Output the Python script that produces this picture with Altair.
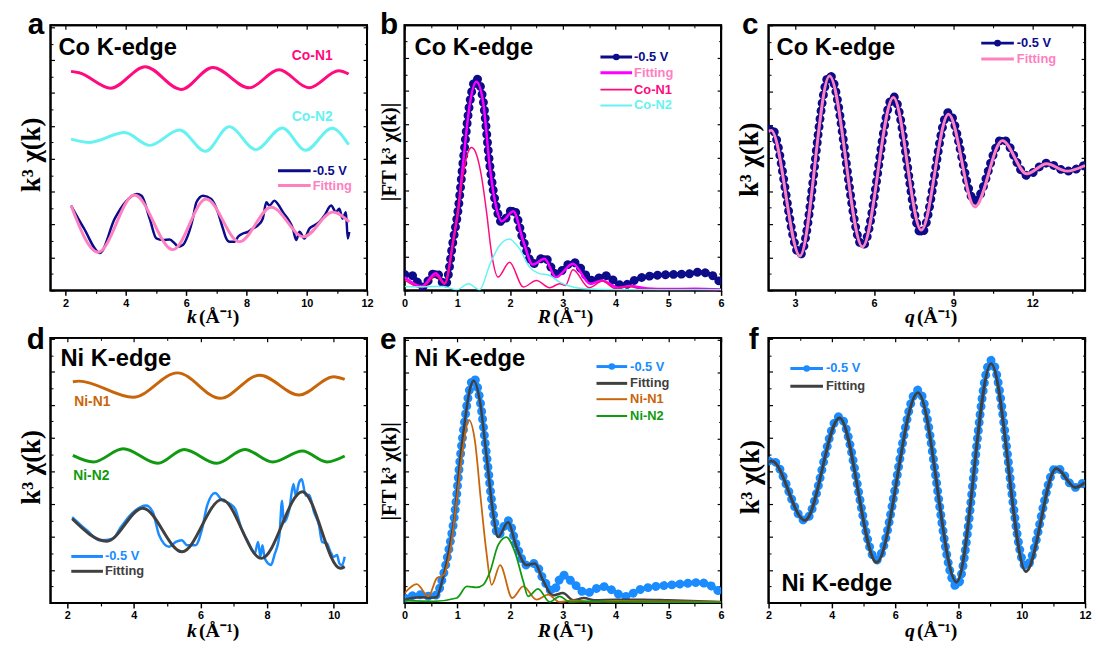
import altair as alt
import pandas as pd

# ---------------- data (arbitrary units) ----------------
# Panel a : Co K-edge, k-space
A_K_N1 = [2.18, 2.45, 3.50, 4.64, 5.83, 6.88, 8.09, 9.08, 10.07, 11.06, 11.39]
A_N1 = [66.6, 66.2, 61.5, 68.0, 61.1, 67.8, 61.6, 67.1, 61.6, 66.8, 65.8]
A_K_N2 = [2.18, 2.80, 3.96, 4.79, 5.78, 6.64, 7.43, 8.31, 9.19, 9.96, 10.84, 11.39]
A_N2 = [46.0, 45.0, 48.0, 44.1, 48.8, 42.3, 49.8, 42.8, 49.4, 42.6, 49.3, 44.3]
A_K_FIT = [2.18, 3.08, 4.28, 5.56, 6.66, 7.77, 8.82, 9.90, 10.86, 11.41]
A_FIT = [25.8, 11.6, 29.0, 12.4, 27.8, 14.8, 25.3, 16.3, 23.8, 20.8]
A_K_EXP = [2.18, 2.60, 3.14, 3.63, 4.00, 4.37, 4.52, 4.79, 5.01, 5.23,
           5.45, 5.62, 5.73, 5.89, 6.06, 6.22, 6.34, 6.56, 6.83, 7.05,
           7.22, 7.33, 7.44, 7.61, 7.72, 7.88, 8.05, 8.21, 8.38, 8.54,
           8.66, 8.76, 8.93, 9.04, 9.21, 9.37, 9.54, 9.65, 9.76, 9.92,
           10.09, 10.26, 10.42, 10.59, 10.81, 10.97, 11.08, 11.19, 11.30, 11.36,
           11.41]
A_EXP = [25.8, 19.0, 11.4, 21.8, 27.0, 29.3, 28.8, 21.8, 15.8, 15.3,
         15.5, 14.3, 13.3, 13.8, 16.8, 21.8, 26.8, 28.8, 27.8, 23.8,
         18.8, 15.8, 14.8, 14.8, 16.3, 17.3, 17.8, 18.8, 19.8, 21.8,
         26.8, 25.8, 27.3, 26.3, 23.8, 21.8, 18.8, 15.3, 17.8, 15.8,
         18.8, 19.8, 20.8, 22.8, 25.8, 23.8, 24.8, 21.8, 23.8, 15.8,
         17.8]

# Panel b : Co K-edge, R-space
B_R_EXP = [0.00, 0.14, 0.33, 0.59, 0.77, 0.92, 1.02, 1.11, 1.24, 1.36,
           1.49, 1.62, 1.74, 1.84, 2.06, 2.25, 2.43, 2.65, 2.87, 3.19,
           3.57, 3.79, 4.13, 4.45, 4.76, 5.08, 5.39, 5.58, 5.77, 6.00]
B_EXP = [4.8, 4.5, 1.0, 5.5, 1.5, 15.0, 25.0, 39.0, 57.0, 63.8,
         57.0, 37.0, 25.0, 20.5, 24.5, 15.0, 8.0, 10.0, 5.0, 8.5,
         3.0, 4.5, 1.5, 3.7, 4.5, 4.8, 5.0, 5.5, 5.0, 2.2]
B_R_FIT = [0.00, 0.33, 0.59, 0.76, 0.92, 1.02, 1.11, 1.24, 1.36, 1.49,
           1.62, 1.74, 1.84, 2.06, 2.25, 2.43, 2.65, 2.87, 3.19, 3.52,
           3.74, 4.05, 4.27, 4.60, 5.00, 5.50, 6.00]
B_FIT = [4.0, 1.2, 5.2, 2.0, 14.8, 24.8, 38.5, 56.5, 62.8, 56.5,
         36.5, 24.8, 20.8, 23.8, 14.8, 7.8, 9.5, 4.0, 8.0, 2.0,
         3.0, 0.8, 1.3, 0.6, 0.4, 0.5, 0.3]
B_R_N1 = [0.00, 0.33, 0.59, 0.76, 0.92, 1.02, 1.11, 1.20, 1.27, 1.36,
          1.45, 1.55, 1.65, 1.77, 1.99, 2.25, 2.50, 2.75, 2.94, 3.05,
          3.19, 3.50, 3.75, 4.00, 4.26, 4.50, 6.00]
B_N1 = [3.2, 0.8, 4.5, 2.0, 14.5, 25.0, 35.0, 41.5, 43.0, 41.0,
        35.0, 24.0, 11.0, 4.0, 8.5, 1.0, 3.0, 0.8, 2.0, 1.5,
        6.2, 0.8, 2.8, 0.5, 1.2, 0.4, 0.3]
B_R_N2 = [0.00, 0.40, 0.74, 0.99, 1.21, 1.42, 1.62, 1.80, 1.98, 2.18,
          2.37, 2.53, 2.75, 2.94, 3.19, 3.50, 4.00, 6.00]
B_N2 = [1.2, 1.1, 1.2, 0.2, 2.0, 0.2, 8.0, 13.5, 15.5, 12.5,
        7.0, 5.2, 4.5, 2.5, 1.0, 0.4, 0.2, 0.2]

# Panel c : Co K-edge, q-space
C_Q = [2.00, 2.10, 3.19, 4.31, 5.56, 6.73, 7.79, 8.82, 9.82, 10.86, 11.79, 12.54, 13.31, 14.00]
C_EXP = [48.7, 49.0, 10.7, 65.0, 13.4, 58.5, 17.2, 53.7, 27.0, 45.7, 34.7, 38.4, 36.0, 37.9]
C_FIT = [48.0, 48.3, 10.4, 64.7, 13.2, 58.2, 18.2, 53.2, 25.2, 45.2, 35.2, 38.2, 36.0, 37.7]

# Panel d : Ni K-edge, k-space
D_K_N1 = [2.17, 2.35, 3.98, 5.31, 6.59, 7.78, 8.96, 10.00, 10.33]
D_N1 = [67.0, 67.2, 62.3, 69.7, 62.0, 69.0, 63.0, 68.5, 67.7]
D_K_N2 = [2.17, 2.79, 3.68, 4.72, 5.51, 6.49, 7.33, 8.17, 9.06, 9.80, 10.33]
D_N2 = [44.7, 42.7, 46.7, 42.3, 46.5, 42.3, 46.5, 42.7, 46.0, 42.7, 44.5]
D_K_FIT = [2.15, 3.19, 4.27, 5.45, 6.64, 7.83, 9.06, 10.20, 10.33]
D_FIT = [25.5, 18.7, 28.7, 15.5, 31.3, 13.5, 33.7, 10.5, 11.0]
D_K_EXP = [2.15, 2.59, 2.99, 3.38, 3.58, 3.93, 4.37, 4.57, 4.76, 5.06,
           5.26, 5.44, 5.60, 5.85, 6.05, 6.20, 6.44, 6.64, 6.89, 7.04,
           7.23, 7.43, 7.63, 7.73, 7.80, 7.86, 7.93, 8.12, 8.22, 8.37,
           8.45, 8.50, 8.67, 8.79, 8.86, 8.96, 9.04, 9.16, 9.26, 9.41,
           9.56, 9.65, 9.80, 9.90, 10.00, 10.10, 10.17, 10.25, 10.33]
D_EXP = [26.0, 22.0, 19.0, 19.5, 22.5, 27.0, 29.5, 27.5, 20.5, 17.0,
         18.5, 19.0, 17.5, 17.5, 22.5, 29.5, 33.3, 31.2, 30.0, 28.5,
         22.5, 18.5, 15.0, 18.5, 14.0, 17.5, 13.5, 11.5, 14.5, 20.5,
         31.0, 24.5, 28.5, 36.0, 32.5, 36.5, 37.5, 32.5, 32.8, 27.5,
         23.5, 18.5, 18.0, 15.5, 14.0, 14.5, 12.0, 11.4, 14.0]

# Panel e : Ni K-edge, R-space
E_R_EXP = [0.00, 0.30, 0.48, 0.61, 0.70, 0.83, 0.96, 1.05, 1.14, 1.24,
           1.31, 1.43, 1.55, 1.68, 1.77, 1.96, 2.12, 2.31, 2.47, 2.62,
           2.81, 3.00, 3.20, 3.44, 3.75, 4.19, 4.45, 4.76, 5.08, 5.39,
           5.58, 5.77, 6.00]
E_EXP = [1.5, 2.5, 2.0, 2.5, 6.5, 15.5, 28.5, 43.5, 55.5, 65.5,
         68.3, 61.5, 45.5, 27.5, 20.5, 25.0, 17.5, 11.5, 12.0, 7.5,
         3.5, 8.5, 6.0, 3.0, 5.0, 2.0, 4.0, 5.0, 5.5, 6.0,
         6.2, 5.5, 3.0]
E_R_FIT = [0.00, 0.30, 0.50, 0.61, 0.70, 0.83, 0.96, 1.05, 1.14, 1.24,
           1.31, 1.43, 1.55, 1.68, 1.77, 1.96, 2.12, 2.31, 2.47, 2.62,
           2.81, 3.00, 3.20, 3.40, 3.60, 4.00, 4.50, 5.00, 6.00]
E_FIT = [1.0, 1.7, 1.6, 1.8, 6.0, 15.0, 28.0, 43.0, 55.0, 65.0,
         67.5, 61.0, 45.0, 27.0, 20.0, 24.5, 17.0, 11.5, 12.0, 7.0,
         2.3, 3.0, 0.8, 1.5, 0.8, 1.0, 1.0, 0.8, 0.3]
E_R_N1 = [0.00, 0.23, 0.45, 0.61, 0.74, 0.86, 0.99, 1.11, 1.22, 1.33,
          1.45, 1.55, 1.65, 1.81, 2.04, 2.25, 2.50, 2.72, 2.94, 3.20,
          3.50, 4.00, 5.00, 6.00]
E_N1 = [3.0, 5.7, 2.0, 7.5, 8.5, 15.5, 31.5, 47.5, 55.5, 49.5,
        30.5, 15.5, 5.5, 11.5, 1.5, 5.0, 1.0, 2.5, 0.3, 0.8,
        0.4, 0.6, 0.5, 0.3]
E_R_N2 = [0.00, 0.55, 0.99, 1.18, 1.36, 1.49, 1.62, 1.77, 1.93, 2.09,
          2.25, 2.34, 2.53, 2.75, 2.94, 3.13, 3.50, 4.00, 6.00]
E_N2 = [0.7, 0.5, 1.5, 5.0, 4.7, 5.5, 9.5, 17.5, 20.0, 15.5,
        6.5, 2.0, 4.3, 0.3, 2.0, 0.3, 0.5, 0.3, 0.2]

# Panel f : Ni K-edge, q-space
F_Q = [2.00, 2.10, 3.15, 4.24, 5.41, 6.72, 7.94, 9.03, 10.13, 11.09, 11.69, 12.00]
F_EXP = [43.0, 43.3, 25.0, 56.5, 13.0, 64.5, 5.0, 73.5, 11.0, 41.0, 35.0, 37.0]
F_FIT = [42.7, 43.0, 25.0, 56.0, 12.3, 63.7, 6.3, 72.5, 9.5, 40.7, 35.0, 36.5]

# tick labels
TICKS_K = [2, 4, 6, 8, 10, 12]
TICKS_R = [0, 1, 2, 3, 4, 5, 6]
TICKS_QC = [3, 6, 9, 12]
TICKS_KD = [2, 4, 6, 8, 10]
TICKS_QF = [2, 4, 6, 8, 10, 12]

# ---------------- style ----------------
W, H = 320, 268
SANS = "Liberation Sans"
SERIF = "Liberation Serif"
NAVY = "#0c0c8a"
PINK = "#ff80c0"
DEEPPINK = "#ff0a7f"
CYAN = "#66f2f2"
MAGENTA = "#ff00ff"
BLUE = "#1a8cff"
GRAY = "#404040"
BROWN = "#c8650a"
GREEN = "#109a10"

ONE = pd.DataFrame({"a": [0]})


def sc(dom):
    return alt.Scale(domain=dom, nice=False, zero=False)


def series(xs, ys, xdom, ydom, color, width, dotted=False):
    assert len(xs) == len(ys)
    df = pd.DataFrame({"x": xs, "y": ys})
    enc = dict(x=alt.X("x:Q", scale=sc(xdom), axis=None),
               y=alt.Y("y:Q", scale=sc(ydom), axis=None))
    out = [alt.Chart(df).mark_line(color=color, strokeWidth=width, interpolate="monotone",
                                   clip=True).encode(**enc)]
    if dotted:
        out.append(alt.Chart(df).mark_line(color=color, strokeWidth=9, strokeDash=[0.1, 8],
                                           strokeCap="round", interpolate="monotone",
                                           clip=True).encode(**enc))
    return out


def frame_axes(xdom, ydom, major, minor):
    """Box frame plus invisible host layers carrying the ticks on all four sides."""
    df = pd.DataFrame({"x": xdom, "y": ydom})
    ytop = ydom[1]
    ymaj = [v for v in range(0, int(ytop) + 1, 10)]
    ymin = [v + 5 for v in range(0, int(ytop), 10) if v + 5 < ytop]

    def host(xax, yax):
        return alt.Chart(df).mark_point(opacity=0).encode(
            x=alt.X("x:Q", scale=sc(xdom), axis=xax),
            y=alt.Y("y:Q", scale=sc(ydom), axis=yax))

    common = dict(domain=False, grid=False, title=None, tickColor="black")
    bottom_major = alt.Axis(orient="bottom", values=major, format="d", labelFont=SANS,
                            labelFontWeight="bold", labelFontSize=11, labelColor="black",
                            labelPadding=2, labelFlush=False, tickSize=5, tickWidth=1.5, **common)
    bottom_minor = alt.Axis(orient="bottom", values=minor, labels=False, tickSize=3,
                            tickWidth=1.2, **common)
    top_major = alt.Axis(orient="top", values=major, labels=False, tickSize=4, offset=-4,
                         tickWidth=1.2, **common)
    top_minor = alt.Axis(orient="top", values=minor, labels=False, tickSize=2.5, offset=-2.5,
                         tickWidth=1, **common)
    left_major = alt.Axis(orient="left", values=ymaj, labels=False, tickSize=4, offset=-4,
                          tickWidth=1.2, **common)
    left_minor = alt.Axis(orient="left", values=ymin, labels=False, tickSize=2.5, offset=-2.5,
                          tickWidth=1, **common)
    right_major = alt.Axis(orient="right", values=ymaj, labels=False, tickSize=4, offset=-4,
                           tickWidth=1.2, **common)
    right_minor = alt.Axis(orient="right", values=ymin, labels=False, tickSize=2.5, offset=-2.5,
                           tickWidth=1, **common)
    box = alt.Chart(ONE).mark_rect(fill="transparent", stroke="black", strokeWidth=2).encode(
        x=alt.value(0), x2=alt.value(W), y=alt.value(0), y2=alt.value(H))
    return [box,
            host(bottom_major, left_major), host(bottom_minor, left_minor),
            host(top_major, right_major), host(top_minor, right_minor)]


def txt(s, x, y, size=13, color="black", font=SANS, weight="bold", align="left",
        baseline="middle", angle=None, style=None):
    kw = dict(text=s, fontSize=size, color=color, font=font, fontWeight=weight,
              align=align, baseline=baseline)
    if angle is not None:
        kw["angle"] = angle
    if style:
        kw["fontStyle"] = style
    return alt.Chart(ONE).mark_text(**kw).encode(x=alt.value(x), y=alt.value(y))


def leg(label, x1, x2, y, color, tcolor, tx, dot=False, width=3):
    out = [alt.Chart(ONE).mark_rule(color=color, strokeWidth=width).encode(
        x=alt.value(x1), x2=alt.value(x2), y=alt.value(y))]
    if dot:
        out.append(alt.Chart(ONE).mark_point(filled=True, color=color, size=45, opacity=1).encode(
            x=alt.value((x1 + x2) / 2), y=alt.value(y)))
    out.append(txt(label, tx, y, size=13, color=tcolor))
    return out


def xtitle(sym, y):
    return [txt(sym, 148, y, size=20, font=SERIF, align="right", style="italic"),
            txt("(Å⁻¹)", 150, y, size=20, font=SERIF)]


def panel(layers):
    return alt.layer(*layers).resolve_axis(x="independent", y="independent").properties(
        width=W, height=H)


def spacer(w):
    return alt.Chart(ONE).mark_point(opacity=0).encode(
        x=alt.value(0), y=alt.value(0)).properties(
        width=w, height=H, view=alt.ViewBackground(strokeOpacity=0))


YT1 = "k³ χ(k)"
YT2 = "|FT k³ χ(k)|"

# ---- panel a ----
xa, ya = [1.5, 12], [0, 80.6]
pa = panel(
    frame_axes(xa, ya, TICKS_K, [3, 5, 7, 9, 11])
    + series(A_K_N1, A_N1, xa, ya, DEEPPINK, 3)
    + series(A_K_N2, A_N2, xa, ya, CYAN, 3)
    + series(A_K_EXP, A_EXP, xa, ya, NAVY, 2.5)
    + series(A_K_FIT, A_FIT, xa, ya, PINK, 3)
    + [txt("a", -23, 9, size=30, baseline="alphabetic"),
       txt("Co K-edge", 8, 30, size=24, baseline="alphabetic"),
       txt("Co-N1", 244, 31, size=14, color=DEEPPINK),
       txt("Co-N2", 244, 93, size=14, color=CYAN),
       txt(YT1, -19, 131, size=27, font=SERIF, align="center", angle=270)]
    + leg("-0.5 V", 230, 263, 147, NAVY, NAVY, 265)
    + leg("Fitting", 230, 263, 162, PINK, PINK, 265)
    + xtitle("k", H + 27)
)

# ---- panel b ----
xb, yb = [0, 6], [0, 79.8]
pb = panel(
    frame_axes(xb, yb, TICKS_R, [0.5, 1.5, 2.5, 3.5, 4.5, 5.5])
    + series(B_R_EXP, B_EXP, xb, yb, NAVY, 4, dotted=True)
    + series(B_R_FIT, B_FIT, xb, yb, MAGENTA, 2.5)
    + series(B_R_N1, B_N1, xb, yb, DEEPPINK, 1.5)
    + series(B_R_N2, B_N2, xb, yb, CYAN, 1.5)
    + [txt("b", -25, 9, size=30, baseline="alphabetic"),
       txt("Co K-edge", 10, 30, size=24, baseline="alphabetic"),
       txt(YT2, -15, 128, size=21, font=SERIF, align="center", angle=270)]
    + leg("-0.5 V", 198, 230, 32, NAVY, NAVY, 232, dot=True)
    + leg("Fitting", 198, 230, 48, MAGENTA, PINK, 232)
    + leg("Co-N1", 198, 230, 65, DEEPPINK, DEEPPINK, 232, width=2)
    + leg("Co-N2", 198, 230, 81, CYAN, CYAN, 232, width=2)
    + xtitle("R", H + 27)
)

# ---- panel c ----
xc, yc = [2, 14], [0, 80]
pc = panel(
    frame_axes(xc, yc, TICKS_QC, [4.5, 7.5, 10.5, 13.5])
    + series(C_Q, C_EXP, xc, yc, NAVY, 4, dotted=True)
    + series(C_Q, C_FIT, xc, yc, PINK, 3)
    + [txt("c", -27, 9, size=30, baseline="alphabetic"),
       txt("Co K-edge", 8, 30, size=24, baseline="alphabetic"),
       txt(YT1, -19, 136, size=27, font=SERIF, align="center", angle=270)]
    + leg("-0.5 V", 215, 248, 18, NAVY, NAVY, 251, dot=True)
    + leg("Fitting", 215, 248, 34, PINK, PINK, 251)
    + xtitle("q", H + 27)
)

# ---- panel d ----
xd, yd = [1.5, 11], [0, 80.3]
pd_ = panel(
    frame_axes(xd, yd, TICKS_KD, [3, 5, 7, 9])
    + series(D_K_N1, D_N1, xd, yd, BROWN, 3)
    + series(D_K_N2, D_N2, xd, yd, GREEN, 3)
    + series(D_K_EXP, D_EXP, xd, yd, BLUE, 2.5)
    + series(D_K_FIT, D_FIT, xd, yd, GRAY, 3)
    + [txt("d", -24, 11, size=30, baseline="alphabetic"),
       txt("Ni K-edge", 10, 28, size=24, baseline="alphabetic"),
       txt("Ni-N1", 24, 65, size=14, color=BROWN),
       txt("Ni-N2", 23, 140, size=14, color=GREEN),
       txt(YT1, -19, 131, size=27, font=SERIF, align="center", angle=270)]
    + leg("-0.5 V", 21, 53, 221, BLUE, BLUE, 55)
    + leg("Fitting", 21, 53, 236, GRAY, GRAY, 55)
    + xtitle("k", H + 28)
)

# ---- panel e ----
xe, ye = [0, 6], [0, 80.5]
pe = panel(
    frame_axes(xe, ye, TICKS_R, [0.5, 1.5, 2.5, 3.5, 4.5, 5.5])
    + series(E_R_EXP, E_EXP, xe, ye, BLUE, 4, dotted=True)
    + series(E_R_FIT, E_FIT, xe, ye, GRAY, 2.5)
    + series(E_R_N1, E_N1, xe, ye, BROWN, 1.8)
    + series(E_R_N2, E_N2, xe, ye, GREEN, 1.8)
    + [txt("e", -25, 11, size=30, baseline="alphabetic"),
       txt("Ni K-edge", 10, 28, size=24, baseline="alphabetic"),
       txt(YT2, -15, 135, size=21, font=SERIF, align="center", angle=270)]
    + leg("-0.5 V", 194, 225, 29, BLUE, BLUE, 228, dot=True)
    + leg("Fitting", 194, 225, 46, GRAY, GRAY, 228)
    + leg("Ni-N1", 194, 225, 62, BROWN, BROWN, 228, width=2)
    + leg("Ni-N2", 194, 225, 79, GREEN, GREEN, 228, width=2)
    + xtitle("R", H + 28)
)

# ---- panel f ----
xf, yf = [2, 12], [0, 80.3]
pf = panel(
    frame_axes(xf, yf, TICKS_QF, [3, 5, 7, 9, 11])
    + series(F_Q, F_EXP, xf, yf, BLUE, 4, dotted=True)
    + series(F_Q, F_FIT, xf, yf, GRAY, 3)
    + [txt("f", -20, 11, size=30, baseline="alphabetic"),
       txt("Ni K-edge", 13, 256, size=24, baseline="alphabetic"),
       txt(YT1, -18, 141, size=27, font=SERIF, align="center", angle=270)]
    + leg("-0.5 V", 22, 55, 31, BLUE, BLUE, 58, dot=True)
    + leg("Fitting", 22, 55, 49, GRAY, GRAY, 58)
    + xtitle("q", H + 28)
)

chart = alt.concat(
    pa, spacer(38), pb, spacer(48), pc,
    pd_, spacer(38), pe, spacer(48), pf,
    columns=5, spacing={"row": 48, "column": 0}, bounds="flush",
).properties(
    padding={"left": 9, "top": -2, "right": 0, "bottom": 0}
).configure(
    background="white",
    view=alt.ViewConfig(stroke="black", strokeWidth=2),
)

chart.save("out.html", embed_options={"renderer": "svg", "actions": False})
